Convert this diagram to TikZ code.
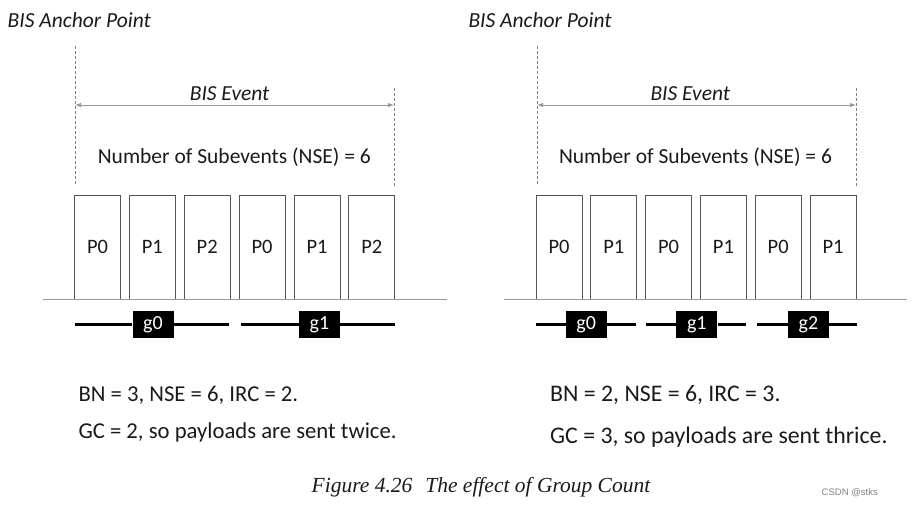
\documentclass[tikz,border=0pt]{standalone}
\usepackage{fontspec}
\setmainfont{Carlito}
\newfontfamily\capfont{Liberation Serif}
\newfontfamily\wmfont{Liberation Sans}
\usetikzlibrary{arrows.meta}
\definecolor{txt}{HTML}{1A1A1A}
\definecolor{boxline}{HTML}{555555}
\definecolor{baseln}{HTML}{9A9A9A}
\tikzset{
  pbox/.style={draw=boxline, line width=0.9pt, minimum width=46pt, minimum height=104pt, inner sep=0pt, font=\fontsize{20.5}{22}\selectfont, text=txt},
  glabel/.style={fill=black, text=white, minimum width=41pt, minimum height=27pt, inner sep=0pt, font=\fontsize{20}{22}\selectfont},
  gline/.style={line width=2.6pt, black},
  dashv/.style={dashed, dash pattern=on 3pt off 2pt, gray, line width=0.6pt},
  evarrow/.style={{Latex[length=6pt,width=4.5pt]}-{Latex[length=6pt,width=4.5pt]}, draw=gray!80, line width=0.9pt},
  titletxt/.style={font=\fontsize{21.5}{24}\selectfont\itshape, text=txt, inner sep=0pt},
  bodytxt/.style={font=\fontsize{21.5}{24}\selectfont, text=txt, inner sep=0pt},
  notetxt/.style={font=\fontsize{22.7}{24}\selectfont, text=txt, inner sep=0pt, anchor=base west},
  notetxtb/.style={font=\fontsize{23.8}{25}\selectfont, text=txt, inner sep=0pt, anchor=base west},
}
\begin{document}
\begin{tikzpicture}[x=1pt, y=-1pt]
\useasboundingbox (0,0) rectangle (920,507);
% ---------------- Left panel ----------------
\node[titletxt, anchor=base west] (lanc) at (7.5,27) {BIS Anchor Point};
\coordinate (lda) at (75,46);
\coordinate (ldb) at (75,186);
\coordinate (lea) at (394,88);
\coordinate (leb) at (394,186);
\draw[dashv] (lda) -- (ldb);
\draw[dashv] (lea) -- (leb);
\coordinate (lar1) at (75,105);
\coordinate (lar2) at (394,105);
\draw[evarrow] (lar1) -- (lar2);
\node[titletxt, anchor=base] (levt) at (229.6,100.7) {BIS Event};
\node[bodytxt, anchor=base] (lnse) at (234.3,163) {Number of Subevents (NSE) = 6};
\node[pbox] (l1) at (97.5,247) {P0};
\node[pbox] (l2) at (152.3,247) {P1};
\node[pbox] (l3) at (207.2,247) {P2};
\node[pbox] (l4) at (262.1,247) {P0};
\node[pbox] (l5) at (317,247) {P1};
\node[pbox] (l6) at (371.8,247) {P2};
\coordinate (lb1) at (43,299);
\coordinate (lb2) at (447,299);
\draw[baseln, line width=0.9pt] (lb1) -- (lb2);
\node[glabel] (lg0) at (153,324.5) {g0};
\node[glabel] (lg1) at (319.5,324.5) {g1};
\coordinate (lg0s) at (75,324.5);
\coordinate (lg0e) at (229,324.5);
\coordinate (lg1s) at (241,324.5);
\coordinate (lg1e) at (395,324.5);
\draw[gline] (lg0s) -- (lg0.west) (lg0.east) -- (lg0e);
\draw[gline] (lg1s) -- (lg1.west) (lg1.east) -- (lg1e);
\node[notetxt] (lt1) at (78.3,401) {BN = 3, NSE = 6, IRC = 2.};
\node[notetxt] (lt2) at (78.3,438) {GC = 2, so payloads are sent twice.};
% ---------------- Right panel ----------------
\node[titletxt, anchor=base west] (ranc) at (468.3,27) {BIS Anchor Point};
\coordinate (rda) at (537,46);
\coordinate (rdb) at (537,186);
\coordinate (rea) at (856,88);
\coordinate (reb) at (856,186);
\draw[dashv] (rda) -- (rdb);
\draw[dashv] (rea) -- (reb);
\coordinate (rar1) at (537,105);
\coordinate (rar2) at (856,105);
\draw[evarrow] (rar1) -- (rar2);
\node[titletxt, anchor=base] (revt) at (690.3,100.7) {BIS Event};
\node[bodytxt, anchor=base] (rnse) at (695.5,163) {Number of Subevents (NSE) = 6};
\node[pbox] (r1) at (559,247) {P0};
\node[pbox] (r2) at (613.8,247) {P1};
\node[pbox] (r3) at (668.6,247) {P0};
\node[pbox] (r4) at (723.4,247) {P1};
\node[pbox] (r5) at (778.2,247) {P0};
\node[pbox] (r6) at (833,247) {P1};
\coordinate (rb1) at (504,299);
\coordinate (rb2) at (907,299);
\draw[baseln, line width=0.9pt] (rb1) -- (rb2);
\node[glabel] (rg0) at (586.2,324.5) {g0};
\node[glabel] (rg1) at (696.8,324.5) {g1};
\node[glabel] (rg2) at (808.5,324.5) {g2};
\coordinate (rg0s) at (536,324.5);
\coordinate (rg0e) at (636,324.5);
\coordinate (rg1s) at (646,324.5);
\coordinate (rg1e) at (746,324.5);
\coordinate (rg2s) at (757,324.5);
\coordinate (rg2e) at (857,324.5);
\draw[gline] (rg0s) -- (rg0.west) (rg0.east) -- (rg0e);
\draw[gline] (rg1s) -- (rg1.west) (rg1.east) -- (rg1e);
\draw[gline] (rg2s) -- (rg2.west) (rg2.east) -- (rg2e);
\node[notetxtb] (rt1) at (550,401) {BN = 2, NSE = 6, IRC = 3.};
\node[notetxtb] (rt2) at (550,443) {GC = 3, so payloads are sent thrice.};
% ---------------- Caption ----------------
\node[font=\capfont\fontsize{21.5}{24}\selectfont\itshape, text=txt, inner sep=0pt] (cap) at (481,487) {Figure 4.26\hspace{0.6em}The effect of Group Count};
\node[font=\wmfont\fontsize{9.5}{11}\selectfont, text=gray, inner sep=0pt, anchor=east] (wm) at (878,493) {CSDN @stks};
\end{tikzpicture}
\end{document}
